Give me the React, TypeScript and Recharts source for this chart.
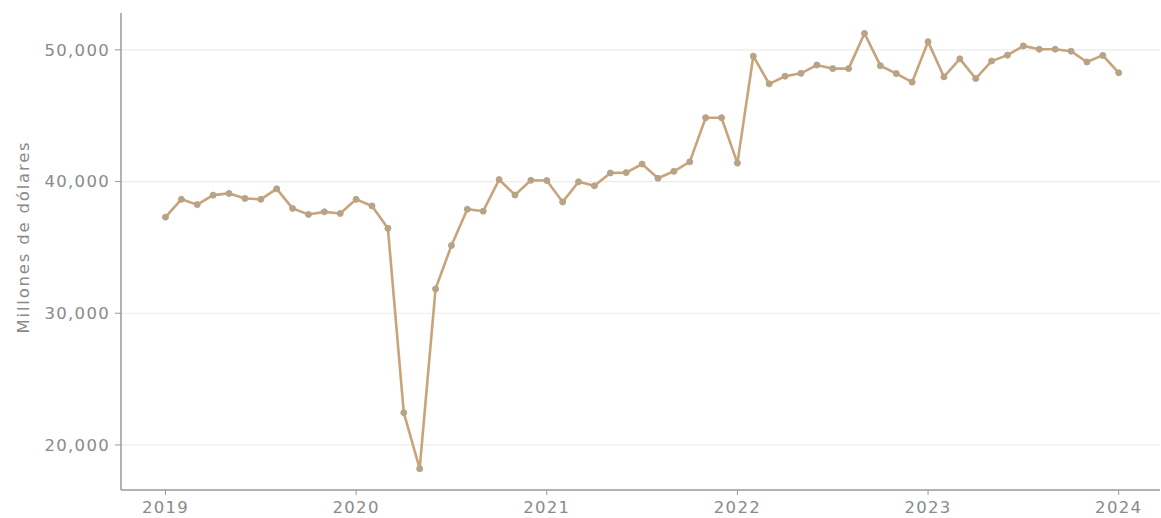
import { LineChart, Line, XAxis, YAxis, CartesianGrid } from 'recharts'

// monthly values, Jan 2019 .. Jan 2024
const months = Array.from({ length: 61 }, (_, i) => i)
const values = [
  37300, 38650, 38250, 38970, 39100, 38720, 38650, 39450, 37960, 37500, 37700, 37580,
  38650, 38150, 36450, 22450, 18200, 31850, 35150, 37900, 37750, 40150, 38980, 40100,
  40080, 38450, 39980, 39680, 40650, 40680, 41330, 40250, 40780, 41500, 44850, 44850,
  41400, 49520, 47420, 48000, 48220, 48850, 48580, 48580, 51250, 48800, 48200, 47550,
  50620, 47950, 49320, 47820, 49150, 49600, 50300, 50050, 50050, 49900, 49080, 49580,
  48260,
]
const yearTicks = [0, 12, 24, 36, 48, 60]
const yearLabels = ['2019', '2020', '2021', '2022', '2023', '2024']
const valueTicks = [20000, 30000, 40000, 50000]

const data = months.map((m, i) => ({ m, value: values[i] }))

const tickStyle = { fill: '#8a8a8a', fontSize: 16.5, fontFamily: 'DejaVu Sans', letterSpacing: 1.3 }

function YLabel() {
  return (
    <text
      x={23}
      y={237}
      transform="rotate(-90, 23, 237)"
      textAnchor="middle"
      dominantBaseline="central"
      fill="#8a8a8a"
      fontSize={16.5}
      letterSpacing={1.8}
      fontFamily="DejaVu Sans"
    >
      Millones de dólares
    </text>
  )
}

export default function App() {
  return (
    <div style={{ position: 'absolute', left: 0, top: 0, background: '#fff' }}>
      <LineChart width={1161} height={518} data={data} margin={{ top: 13, right: 1, left: 0, bottom: 0 }}>
        <CartesianGrid
          horizontal
          vertical={false}
          horizontalValues={valueTicks}
          stroke="#ececec"
          strokeWidth={1.2}
        />
        <XAxis
          dataKey="m"
          type="number"
          domain={[-2.8, 62.6]}
          ticks={yearTicks}
          tickFormatter={(v: number) => yearLabels[yearTicks.indexOf(v)]}
          height={28}
          tick={tickStyle}
          tickSize={5}
          tickMargin={6}
          axisLine={{ stroke: '#9a9a9a', strokeWidth: 1.5 }}
          tickLine={{ stroke: '#9a9a9a' }}
        />
        <YAxis
          type="number"
          domain={[16580, 52800]}
          ticks={valueTicks}
          allowDataOverflow
          width={121}
          tick={tickStyle}
          tickSize={6}
          tickMargin={5}
          tickFormatter={(v: number) => v.toLocaleString('en-US')}
          axisLine={{ stroke: '#9a9a9a', strokeWidth: 1.5 }}
          tickLine={{ stroke: '#9a9a9a' }}
          label={<YLabel />}
        />
        <Line
          type="linear"
          dataKey="value"
          stroke="#c9a47a"
          strokeWidth={2.6}
          dot={{ r: 3, fill: '#b8a386', stroke: '#b8a386', strokeWidth: 1 }}
          isAnimationActive={false}
        />
      </LineChart>
    </div>
  )
}
